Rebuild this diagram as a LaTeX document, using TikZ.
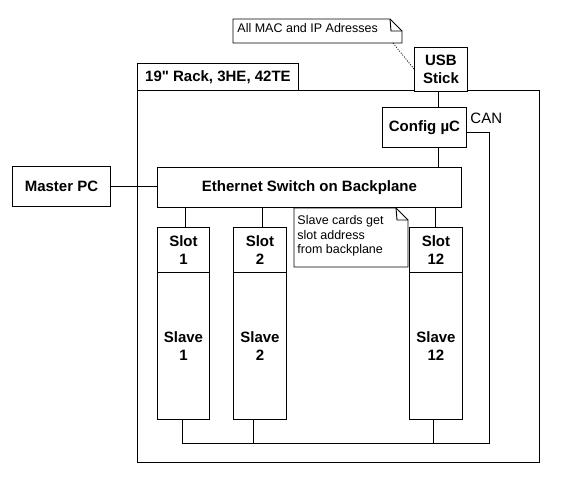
\documentclass[tikz,border=0pt]{standalone}
\usepackage{fontspec}
\setmainfont{Liberation Sans}
\newfontfamily\rawfont{Liberation Sans}
\begin{document}
\begin{tikzpicture}[x=1pt,y=-1pt,line width=0.9pt,
  box/.style={draw,line width=0.9pt,inner sep=0pt,align=center,anchor=north west,
    font=\fontsize{15}{18}\selectfont\bfseries},
  plain/.style={inner sep=0pt,font=\fontsize{15}{18}\selectfont},
  notetext/.style={inner sep=0pt,align=left,anchor=north west,
    font=\fontsize{12.5}{14.5}\selectfont},
  notebox/.style={draw,line width=0.9pt,fill=white},
  wire/.style={line width=0.9pt},
  dots/.style={line width=0.8pt,dash pattern=on 1pt off 1.5pt}]
\useasboundingbox (0,0) rectangle (569,482);

% rack
\node[box,minimum width=402pt,minimum height=372pt] (rack) at (137,90) {};
\node[box,minimum width=161pt,minimum height=27pt] (title) at (137,63) {19{\rawfont\bfseries"} Rack, 3HE, 42TE};
\node[box,fill=white,minimum width=53pt,minimum height=44pt] (usb) at (414,47) {USB\\Stick};
\node[box,minimum width=84pt,minimum height=40pt] (config) at (382,107) {Config µC};
\node[box,minimum width=304pt,minimum height=40pt] (switch) at (157,167) {Ethernet Switch on Backplane};
\node[box,minimum width=98pt,minimum height=40pt] (master) at (12,166) {Master PC};

\node[box,minimum width=52pt,minimum height=45pt] (slot1) at (157,227) {Slot\\1};
\node[box,minimum width=52pt,minimum height=147pt] (slave1) at (157,272) {Slave\\1};
\node[box,minimum width=53pt,minimum height=45pt] (slot2) at (233,227) {Slot\\2};
\node[box,minimum width=53pt,minimum height=147pt] (slave2) at (233,272) {Slave\\2};
\node[box,minimum width=53pt,minimum height=45pt] (slot12) at (409,227) {Slot\\12};
\node[box,minimum width=53pt,minimum height=147pt] (slave12) at (409,272) {Slave\\12};

\node[plain,anchor=west] (can) at (470,118) {CAN};

% connectors
\draw[wire] (master.east) -- (master.east -| switch.west);
\draw[wire] (config.north -| 438,0) -- (usb.south -| 438,0);
\draw[wire] (config.south -| 438,0) -- (switch.north -| 438,0);
\draw[wire] (slot1.north -| 185,0) -- (switch.south -| 185,0);
\draw[wire] (slot2.north -| 262,0) -- (switch.south -| 262,0);
\draw[wire] (slot12.north -| 435,0) -- (switch.south -| 435,0);

\coordinate (busr) at (489,443);
\coordinate (busl) at (182,443);
\draw[wire] (config.east |- 0,132) -| (busr) -- (busl) -- (slave1.south -| busl);
\draw[wire] (slave2.south -| 253,0) -- (253,443);
\draw[wire] (slave12.south -| 433,0) -- (433,443);

% note 1
\draw[notebox] (233,19) -- (390,19) -- (402,31) -- (402,43) -- (233,43) -- cycle;
\draw[line width=0.9pt] (390,19) -- (391,31) -- (402,31);
\node[notetext] (note1) at (237,23) {All MAC and IP Adresses};
\coordinate (n1a) at (393,43);
\draw[dots] (n1a) -- (usb.north west |- 0,69);

% note 2
\draw[notebox] (294,208) -- (396,208) -- (408,220) -- (408,267) -- (294,267) -- cycle;
\draw[line width=0.9pt] (396,208) -- (397,220) -- (408,220);
\node[notetext] (note2) at (297,215) {Slave cards get\\slot address\\from backplane};
\end{tikzpicture}
\end{document}
